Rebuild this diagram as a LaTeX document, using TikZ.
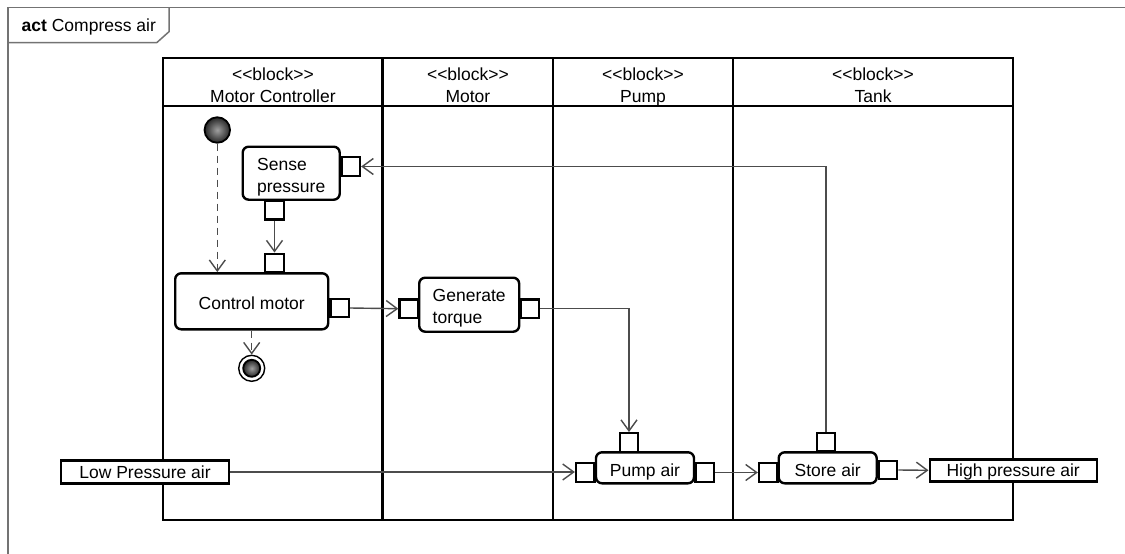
\documentclass[tikz,border=0pt]{standalone}
\usepackage{fontspec}
\setmainfont{Liberation Sans}
\usetikzlibrary{arrows.meta}
\newcommand\stereo[1]{<\kern0pt<#1>\kern0pt>}
\newcommand\topst{\rule{0pt}{20.5pt}}
\newcommand\botst{\rule[-4pt]{0pt}{4pt}}
\newcommand\onest{\rule[-4pt]{0pt}{24.5pt}}
\newcommand\objst{\rule[-4pt]{0pt}{20.5pt}}
\tikzset{
  lane/.style={line width=2.3pt, black},
  frameline/.style={line width=1.5pt, black!55},
  txt/.style={font=\fontsize{17.5}{22}\selectfont},
  action/.style={txt, draw, line width=2.4pt, rounded corners=6pt, fill=white, inner sep=0pt, align=left},
  pinbox/.style={draw, line width=2.4pt, fill=white, minimum width=18.5pt, minimum height=18.5pt, inner sep=0pt},
  objbox/.style={txt, draw, line width=2.4pt, fill=white, inner sep=0pt},
  flow/.style={line width=1.4pt, black!70, -{Straight Barb[length=11pt,width=16pt,line width=1.4pt]}},
  ctrl/.style={flow, dash pattern=on 7pt off 5pt},
  hdr/.style={txt, align=center, inner sep=0pt}
}
\begin{document}
\begin{tikzpicture}[x=1pt, y=-1pt]
\useasboundingbox (0,0) rectangle (1125,554);
% frame
\draw[frameline] (8,554) -- (8,7.5) -- (1125,7.5);
\draw[frameline] (8,42.7) -- (156.7,42.7) -- (169,31.7) -- (169,7.5);
\node[txt, anchor=west, inner sep=0pt] (title) at (21.5,27) {\textbf{act} Compress air};
% swimlanes
\draw[lane] (163.3,58) rectangle (1013.3,520);
\draw[lane] (163.3,105.7) -- (1013.3,105.7);
\draw[lane] (382.5,58) -- (382.5,520);
\draw[lane] (553.3,58) -- (553.3,520);
\draw[lane] (732.7,58) -- (732.7,520);
\node[hdr] (h1) at (272.9,86.8) {\stereo{block}\\Motor Controller\botst};
\node[hdr] (h2) at (467.9,86.8) {\stereo{block}\\Motor\botst};
\node[hdr] (h3) at (643,86.8) {\stereo{block}\\Pump\botst};
\node[hdr] (h4) at (873,86.8) {\stereo{block}\\Tank\botst};
% initial and final
\node[circle, draw, line width=1.8pt, minimum size=25.5pt, inner sep=0pt, inner color=gray!75, outer color=black!85] (init) at (217.3,130) {};
\node[circle, draw, line width=1.4pt, minimum size=26pt, inner sep=0pt, fill=white] (final) at (251.7,368.3) {};
\node[circle, draw, line width=1.8pt, minimum size=17pt, inner sep=0pt, inner color=gray!75, outer color=black!85] (finalin) at (final) {};
% actions
\node[action, minimum width=97pt, minimum height=53pt] (sense) at (291.2,173.2) {\topst Sense\\pressure\botst};
\node[pinbox] (seR) at (350.7,166.5) {};
\node[pinbox] (seB) at (274.5,210.3) {};
\node[action, minimum width=153pt, minimum height=56pt] (ctl) at (251.7,301.3) {\onest Control motor};
\node[pinbox] (ctT) at (274.5,263) {};
\node[pinbox] (ctR) at (339.7,308) {};
\node[action, minimum width=100pt, minimum height=54pt] (gen) at (469.2,304.7) {\topst Generate\\torque\botst};
\node[pinbox] (gL) at (408.8,308.7) {};
\node[pinbox] (gR) at (529.7,308.7) {};
\node[action, minimum width=98pt, minimum height=31pt] (pump) at (645,467.8) {\onest Pump air};
\node[pinbox] (puT) at (629,442.5) {};
\node[pinbox] (puL) at (585.3,472.5) {};
\node[pinbox] (puR) at (704.7,472.5) {};
\node[action, minimum width=98pt, minimum height=31pt] (store) at (827.7,467.8) {\onest Store air};
\node[pinbox] (stT) at (826,442.3) {};
\node[pinbox] (stL) at (768.3,472.5) {};
\node[pinbox] (stR) at (888,470) {};
% object nodes
\node[objbox, minimum width=168pt, minimum height=23pt] (lpa) at (145,472) {\objst Low Pressure air};
\node[objbox, minimum width=167pt, minimum height=22pt] (hpa) at (1013.2,470.3) {\objst High pressure air};
% connectors
\draw[ctrl] (init.south) -- (init.south |- ctl.north);
\draw[ctrl] (ctl.south) -- (final.north);
\draw[flow] (seB.south) -- (ctT.north);
\draw[flow] (ctR.east) -- (gL.west);
\draw[flow] (gR.east) -| (puT.north);
\draw[flow] (stT.north) |- (seR.east);
\draw[flow] (lpa.east) -- (lpa.east -| puL.west);
\draw[flow] (puR.east) -- (stL.west);
\draw[flow] (stR.east) -- (hpa.west);
\end{tikzpicture}
\end{document}
